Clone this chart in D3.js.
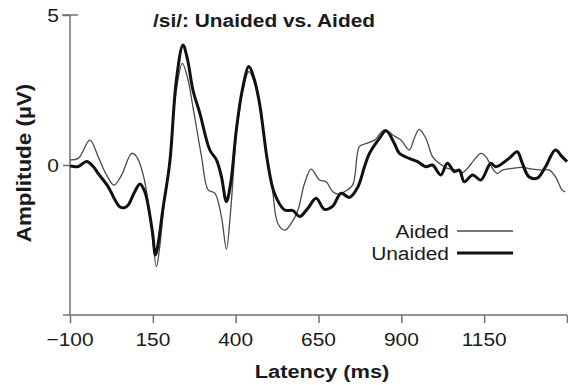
<!DOCTYPE html>
<html lang="en">
<head>
    <meta charset="UTF-8">
    <script src="https://d3js.org/d3.v7.min.js"></script>
    <title>/si/: Unaided vs. Aided</title>
    <style>
        body { margin: 0; background: #fff; font-family: "Liberation Sans", Arial, sans-serif; }
        svg { display: block; }
    </style>
</head>
<body>
    <div id="chart"></div>

    <script>
        // latency (ms) / amplitude (uV)
        const aidedLatency = [-100, -75, -40, -15, 10, 33, 56, 86, 101, 121, 141, 161, 170, 185, 201, 221, 239, 255, 271, 297, 317, 337, 357, 372, 385, 402, 420, 440, 455, 472, 497, 510, 527, 548, 568, 588, 608, 628, 653, 673, 693, 713, 728, 753, 773, 789, 819, 849, 874, 899, 924, 939, 954, 974, 994, 1014, 1039, 1065, 1085, 1100, 1120, 1140, 1155, 1175, 1190, 1205, 1235, 1265, 1295, 1323, 1347, 1365, 1385, 1395];
        const aidedAmp = [0.17, 0.22, 0.83, 0.28, -0.33, -0.67, -0.33, 0.39, 0.28, -0.33, -1.61, -3.39, -2.8, -1.2, 0.2, 2.5, 3.39, 2.9, 1.94, 0.28, -0.83, -0.94, -1.72, -2.8, -1.5, 1.0, 2.4, 3.11, 2.8, 2.0, 0.0, -0.72, -1.94, -2.17, -1.94, -1.5, -0.61, -0.14, -0.5, -0.56, -0.89, -0.97, -0.89, -0.67, 0.61, 0.7, 0.83, 1.17, 1.0, 0.83, 0.5, 0.89, 1.19, 0.89, 0.28, 0.06, -0.11, -0.17, -0.25, -0.11, 0.17, 0.39, 0.28, -0.11, -0.28, -0.17, -0.11, -0.08, -0.14, -0.17, -0.17, -0.39, -0.83, -0.9];

        const unaidedLatency = [-100, -75, -50, -30, -15, 15, 35, 51, 65, 76, 95, 111, 126, 148, 158, 165, 180, 201, 221, 241, 255, 271, 292, 322, 342, 357, 372, 385, 402, 420, 440, 455, 472, 497, 517, 548, 573, 593, 618, 643, 668, 693, 718, 743, 768, 789, 804, 834, 854, 879, 894, 924, 949, 974, 994, 1019, 1039, 1060, 1075, 1090, 1115, 1140, 1170, 1185, 1225, 1250, 1265, 1285, 1310, 1335, 1365, 1385, 1400];
        const unaidedAmp = [-0.03, -0.05, 0.12, -0.05, -0.28, -0.72, -1.15, -1.4, -1.42, -1.33, -0.9, -0.63, -0.9, -2.17, -3.0, -2.7, -1.5, 0.07, 2.83, 4.0, 3.5, 2.5, 1.72, 0.5, 0.17, -0.39, -1.22, -0.6, 1.17, 2.5, 3.28, 2.9, 2.06, 0.06, -0.94, -1.5, -1.52, -1.72, -1.44, -1.11, -1.48, -1.37, -0.94, -1.08, -0.75, -0.05, 0.39, 0.89, 1.14, 0.72, 0.39, 0.22, 0.11, -0.06, 0, -0.33, 0.06, -0.22, -0.17, -0.56, -0.33, -0.5, 0.06, -0.06, 0.22, 0.44, 0.06, -0.39, -0.44, -0.06, 0.5, 0.28, 0.11];

        const xTicks = [-100, 150, 400, 650, 900, 1150, 1400];
        const xTickLabels = ["\u2212100", "150", "400", "650", "900", "1150", ""];
        const yTicks = [0, 5];

        const width = 568, height = 385;
        const svg = d3.select('#chart').append('svg')
            .attr('width', width)
            .attr('height', height);

        const x = d3.scaleLinear().domain([-100, 1400]).range([70, 567]);
        const y = d3.scaleLinear().domain([-5, 5]).range([315, 15]);

        const axisColor = '#707070';
        const stretch = 1.1; // the figure's lettering is a bit wide

        function label(g, tx, ty, txt, opts) {
            return g.append('text')
                .attr('transform', `translate(${tx},${ty}) scale(${opts.sx || stretch},1)`)
                .attr('text-anchor', opts.anchor || 'middle')
                .attr('font-size', opts.size + 'px')
                .attr('font-weight', opts.bold ? 'bold' : 'normal')
                .attr('fill', '#1a1a1a')
                .text(txt);
        }

        // x axis
        const xAxis = svg.append('g')
            .attr('transform', `translate(0,${y(-5)})`)
            .call(d3.axisBottom(x).tickValues(xTicks).tickSize(8).tickFormat(''));
        xAxis.select('.domain').attr('stroke', axisColor).attr('stroke-width', 1.5)
            .attr('d', `M63,0H${x(1400)}`);
        xAxis.selectAll('.tick line').attr('stroke', axisColor).attr('stroke-width', 1.5);

        // y axis
        const yAxis = svg.append('g')
            .attr('transform', `translate(${x(-100)},0)`)
            .call(d3.axisLeft(y).tickValues(yTicks).tickSize(7).tickFormat(''));
        yAxis.select('.domain').attr('stroke', axisColor).attr('stroke-width', 1.5)
            .attr('d', `M0,${y(5)}V${y(-5)}`);
        yAxis.selectAll('.tick line').attr('stroke', axisColor).attr('stroke-width', 1.5);
        // top tick crosses the axis
        yAxis.append('line')
            .attr('x1', -8).attr('x2', 8)
            .attr('y1', y(5)).attr('y2', y(5))
            .attr('stroke', axisColor).attr('stroke-width', 1.5);

        const labels = svg.append('g');
        xTicks.forEach((t, i) => {
            label(labels, x(t), 346, xTickLabels[i], { size: 19 });
        });
        yTicks.forEach(t => {
            label(labels, 59, y(t) + 7, String(t), { size: 19, anchor: 'end' });
        });

        // titles
        label(labels, 264, 27, '/si/: Unaided vs. Aided', { size: 18.5, bold: true, sx: 1.13 });
        label(labels, 322, 378, 'Latency (ms)', { size: 19, bold: true, sx: 1.15 });
        labels.append('text')
            .attr('transform', `translate(31,163) rotate(-90) scale(1.15,1)`)
            .attr('text-anchor', 'middle')
            .attr('font-size', '19.5px')
            .attr('font-weight', 'bold')
            .attr('fill', '#1a1a1a')
            .text('Amplitude (\u00b5V)');

        // traces
        const line = d3.line()
            .x(d => x(d[0]))
            .y(d => y(d[1]))
            .curve(d3.curveCatmullRom.alpha(0.5));

        const aided = d3.zip(aidedLatency, aidedAmp);
        const unaided = d3.zip(unaidedLatency, unaidedAmp);

        svg.append('path')
            .datum(aided)
            .attr('fill', 'none')
            .attr('stroke', '#4a4a4a')
            .attr('stroke-width', 1.3)
            .attr('d', line);

        svg.append('path')
            .datum(unaided)
            .attr('fill', 'none')
            .attr('stroke', '#111')
            .attr('stroke-width', 3)
            .attr('stroke-linejoin', 'round')
            .attr('d', line);

        // legend
        const legend = svg.append('g');
        const legendItems = [
            { name: 'Aided', width: 1.3, color: '#4a4a4a', yPos: 231 },
            { name: 'Unaided', width: 3, color: '#111', yPos: 253 }
        ];
        legendItems.forEach(it => {
            label(legend, 449, it.yPos + 7, it.name, { size: 19, anchor: 'end' });
            legend.append('line')
                .attr('x1', 457).attr('x2', 513)
                .attr('y1', it.yPos).attr('y2', it.yPos)
                .attr('stroke', it.color)
                .attr('stroke-width', it.width);
        });
    </script>
</body>
</html>
